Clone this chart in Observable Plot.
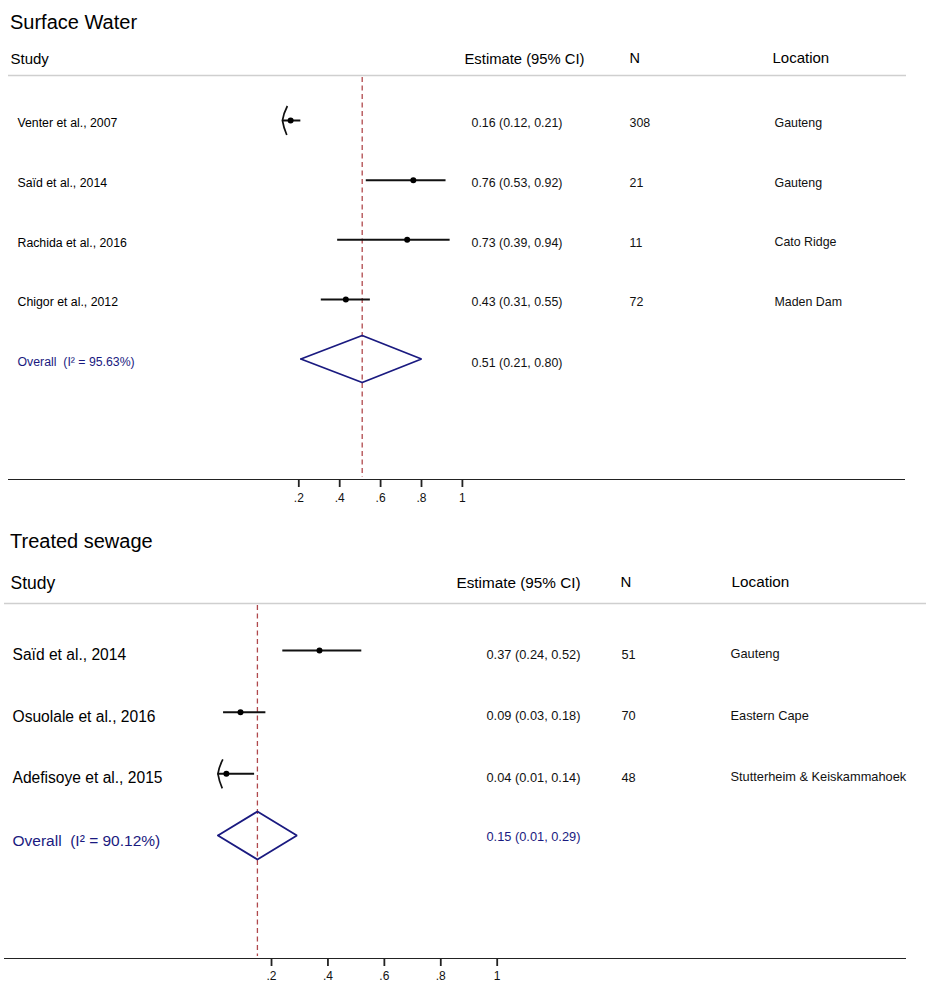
<!DOCTYPE html>
<html>
<head>
<meta charset="utf-8">
<script src="https://cdn.jsdelivr.net/npm/d3@7"></script>
<script src="https://cdn.jsdelivr.net/npm/@observablehq/plot@0.6"></script>
<style>
  html, body { margin: 0; padding: 0; background: #fff; }
  body { width: 926px; font-family: "Liberation Sans", Arial, Helvetica, sans-serif; color: #000; }
  .panel-title { font-size: 20px; padding-left: 10px; white-space: nowrap; }
  #t1 { height: 44px; line-height: 44px; }
  #t2 { height: 42px; line-height: 42px; }
  svg { display: block; }
</style>
</head>
<body>
<div id="t1" class="panel-title">Surface Water</div>
<div id="p1"></div>
<div id="t2" class="panel-title">Treated sewage</div>
<div id="p2"></div>
<script>
// ---- Surface water ----
const swStudy = ["Venter et al., 2007", "Saïd et al., 2014", "Rachida et al., 2016", "Chigor et al., 2012"];
const swEstimate = [0.16, 0.76, 0.73, 0.43];
const swLower = [0.12, 0.53, 0.39, 0.31];
const swUpper = [0.21, 0.92, 0.94, 0.55];
const swN = [308, 21, 11, 72];
const swLocation = ["Gauteng", "Gauteng", "Cato Ridge", "Maden Dam"];
const swPooled = [0.51, 0.21, 0.80];   // estimate, lower, upper
const swI2 = 95.63;

// ---- Treated sewage ----
const tsStudy = ["Saïd et al., 2014", "Osuolale et al., 2016", "Adefisoye et al., 2015"];
const tsEstimate = [0.37, 0.09, 0.04];
const tsLower = [0.24, 0.03, 0.01];
const tsUpper = [0.52, 0.18, 0.14];
const tsN = [51, 70, 48];
const tsLocation = ["Gauteng", "Eastern Cape", "Stutterheim & Keiskammahoek"];
const tsPooled = [0.15, 0.01, 0.29];
const tsI2 = 90.12;

const headers = ["Study", "Estimate (95% CI)", "N", "Location"];
const tickValues = [0.2, 0.4, 0.6, 0.8, 1];

const fmt = d3.format(".2f");
const ciText = (e, l, u) => `${fmt(e)} (${fmt(l)}, ${fmt(u)})`;
const tickText = d => d === 1 ? "1" : d3.format(".1f")(d).replace(/^0/, "");
const NAVY = "#1a1a80";
const REF = "#b0484c";

// Open chevron drawn at a CI bound that runs past the axis
const chevron = {
  draw(context, size) {
    const r = Math.sqrt(size / Math.PI);
    context.moveTo(0.34 * r, -r);
    context.quadraticCurveTo(0.08 * r, -0.5 * r, 0, 0);
    context.quadraticCurveTo(0.08 * r, 0.5 * r, 0.3 * r, r);
  }
};

function forest(opts) {
  const {study, est, lower, upper, n, location, pooled, i2, L} = opts;
  const rows = study.map((s, i) => ({
    row: i, study: s, est: est[i], lo: lower[i], hi: upper[i], n: n[i], loc: location[i],
    label: ciText(est[i], lower[i], upper[i])
  }));
  const overall = {
    row: study.length, est: pooled[0], lo: pooled[1], hi: pooled[2],
    label: ciText(pooled[0], pooled[1], pooled[2]),
    study: `Overall\u00a0 (I² = ${i2.toFixed(2)}%)`
  };
  const yPx = d3.scaleLinear().domain([0, study.length]).range(L.rowRange);
  const yAt = px => yPx.invert(px);
  const half = L.diamondHalf / (yPx(1) - yPx(0));
  const diamond = [
    {x: overall.lo, y: overall.row},
    {x: overall.est, y: overall.row - half},
    {x: overall.hi, y: overall.row},
    {x: overall.est, y: overall.row + half},
    {x: overall.lo, y: overall.row}
  ];
  const clipped = rows.filter(d => d.lo <= L.xMin);
  const headerMarks = headers.map((h, i) => Plot.text([h], {
    y: () => yAt(L.headerY[i]), text: d => d, frameAnchor: "left", dx: L.headerX[i],
    textAnchor: "start", fontSize: L.headerSize[i], fill: "#000"
  }));
  const axisRow = yAt(L.axisY);

  return Plot.plot({
    width: 926,
    height: L.height,
    margin: 0,
    style: {fontFamily: '"Liberation Sans", Arial, Helvetica, sans-serif', fontSize: "11px", color: "#111", background: "#fff"},
    x: {domain: [0, 1], range: L.xRange, axis: null},
    y: {domain: yPx.domain(), range: yPx.range(), axis: null},
    marks: [
      // header underline and axis baseline
      Plot.ruleY([yAt(L.headerLine)], {y: d => d, insetLeft: L.headerLineX[0], insetRight: 926 - L.headerLineX[1], stroke: "#cfcfcf", strokeWidth: 1.6}),
      Plot.ruleY([axisRow], {y: d => d, insetLeft: L.axisLineX[0], insetRight: 926 - L.axisLineX[1], stroke: "#222", strokeWidth: 1.2}),
      // x axis ticks and labels
      Plot.tickX(tickValues, {x: d => d, insetTop: L.axisY, insetBottom: L.height - L.axisY - 8, stroke: "#222", strokeWidth: 1.8}),
      Plot.text(tickValues, {x: d => d, y: () => yAt(L.axisY + L.tickLabelOffset), text: tickText, fontSize: 12, fill: "#111"}),
      // pooled-estimate reference line
      Plot.ruleX([overall.est], {x: d => d, y1: yAt(L.headerLine + 2), y2: yAt(L.axisY - 2), stroke: REF, strokeWidth: 1.3, strokeDasharray: "5,3.5"}),
      ...headerMarks,
      // confidence intervals
      Plot.ruleY(rows, {y: "row", x1: d => Math.max(d.lo, L.xMin), x2: "hi", stroke: "#111", strokeWidth: 2}),
      Plot.dot(clipped, {x: () => L.xMin, y: "row", symbol: chevron, r: 14.5, stroke: "#111", strokeWidth: 1.7, fill: "none"}),
      Plot.dot(rows, {x: "est", y: "row", r: 3, fill: "#000", stroke: "none"}),
      // pooled diamond
      Plot.line(diamond, {x: "x", y: "y", stroke: NAVY, strokeWidth: 1.8, strokeLinejoin: "miter"}),
      // table columns
      Plot.text(rows, {y: "row", text: "study", frameAnchor: "left", dx: L.studyX, dy: L.studyDy, textAnchor: "start", fontSize: L.studySize, fill: "#000"}),
      Plot.text([overall], {y: "row", text: "study", frameAnchor: "left", dx: L.studyX, dy: L.overallDy, textAnchor: "start", fontSize: L.overallSize, fill: NAVY}),
      Plot.text(rows, {y: "row", text: "label", frameAnchor: "left", dx: L.ciX, dy: L.ciDy, textAnchor: "start", fontSize: L.ciSize, fill: "#111"}),
      Plot.text([overall], {y: "row", text: "label", frameAnchor: "left", dx: L.ciX, dy: L.overallCiDy, textAnchor: "start", fontSize: L.ciSize, fill: L.overallCiColor}),
      Plot.text(rows, {y: "row", text: d => String(d.n), frameAnchor: "left", dx: L.nX, dy: L.ciDy, textAnchor: "start", fontSize: L.ciSize, fill: "#111"}),
      Plot.text(rows, {y: "row", text: "loc", frameAnchor: "left", dx: L.locX, dy: L.locDy, textAnchor: "start", fontSize: L.ciSize, fill: "#111"})
    ]
  });
}

document.getElementById("p1").append(forest({
  study: swStudy, est: swEstimate, lower: swLower, upper: swUpper, n: swN, location: swLocation,
  pooled: swPooled, i2: swI2,
  L: {
    height: 476, axisY: 435, tickLabelOffset: 18.5,
    xRange: [257.4, 461.9], xMin: 0.12,
    rowRange: [76, 314.5], diamondHalf: 23.5,
    headerY: [14.5, 14.5, 13.5, 13.5], headerX: [10, 464, 629, 772], headerSize: [15, 14.8, 14.5, 15],
    headerLine: 31, headerLineX: [8, 906], axisLineX: [8, 905],
    studyX: 17, studySize: 12.3, studyDy: 3,
    overallSize: 12.3, overallDy: 3.5,
    ciX: 471, ciSize: 12.4, ciDy: 3, overallCiDy: 4, overallCiColor: "#111",
    nX: 629, locX: 774, locDy: 2.5
  }
}));

document.getElementById("p2").append(forest({
  study: tsStudy, est: tsEstimate, lower: tsLower, upper: tsUpper, n: tsN, location: tsLocation,
  pooled: tsPooled, i2: tsI2,
  L: {
    height: 421, axisY: 396, tickLabelOffset: 18,
    xRange: [214.6, 496.7], xMin: 0.01,
    rowRange: [88, 273], diamondHalf: 24,
    headerY: [21, 20.5, 20, 20], headerX: [10, 456, 620, 731], headerSize: [17.5, 15.3, 15, 15.3],
    headerLine: 41, headerLineX: [4, 926], axisLineX: [4, 906],
    studyX: 12, studySize: 15.6, studyDy: 4.5,
    overallSize: 15.5, overallDy: 5.5,
    ciX: 486, ciSize: 12.8, ciDy: 4, overallCiDy: 1.8, overallCiColor: NAVY,
    nX: 621, locX: 730, locDy: 3.3
  }
}));
</script>
</body>
</html>
